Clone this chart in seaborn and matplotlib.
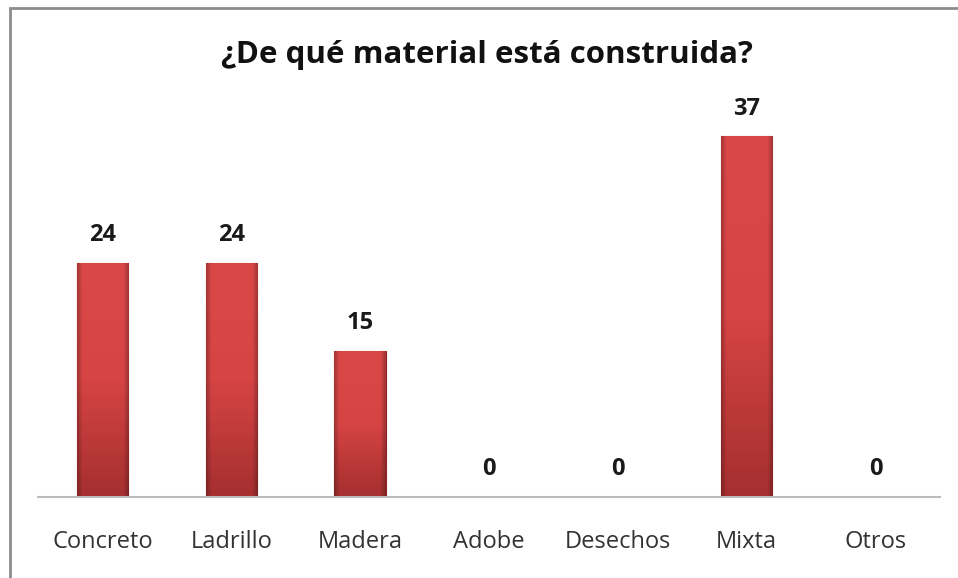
import numpy as np
import pandas as pd
import matplotlib
matplotlib.use("Agg")
import matplotlib.pyplot as plt
import seaborn as sns
from matplotlib.patches import Rectangle
from matplotlib.colors import LinearSegmentedColormap

categories = ["Concreto", "Ladrillo", "Madera", "Adobe", "Desechos", "Mixta", "Otros"]
values = [24, 24, 15, 0, 0, 37, 0]
title = "¿De qué material está construida?"

sns.set_theme(style="white")
plt.rcParams['font.family'] = ['Open Sans', 'DejaVu Sans']

W, H = 958, 578
fig = plt.figure(figsize=(W / 100, H / 100), dpi=100)
fig.patch.set_facecolor("white")
ax = fig.add_axes([38 / W, (H - 497) / H, (940 - 38) / W, (497 - 107) / H])

df = pd.DataFrame({"cat": categories, "val": values})
sns.barplot(data=df, x="cat", y="val", ax=ax, color="#C93B3B", width=0.4,
            edgecolor="#8E2222", linewidth=0.8, saturation=1)

# gradient overlay inside bars
grad = np.linspace(0, 1, 256).reshape(-1, 1)
cmap = LinearSegmentedColormap.from_list("g", ["#A52F2F", "#D64444", "#DB4848"])
for p in ax.patches:
    x0, y0 = p.get_x(), p.get_y()
    w, h = p.get_width(), p.get_height()
    if h <= 0:
        continue
    im = ax.imshow(grad, extent=[x0, x0 + w, y0, y0 + h], origin="lower",
                   cmap=cmap, aspect="auto", zorder=p.get_zorder() + 0.1)
    im.set_clip_path(p)
    sx = np.linspace(0, 1, 64).reshape(1, -1)
    alpha = np.clip(np.maximum(1 - sx / 0.1, (sx - 0.9) / 0.1), 0, 1) * 0.25
    rgba = np.zeros((1, 64, 4))
    rgba[..., 3] = alpha
    im2 = ax.imshow(rgba, extent=[x0, x0 + w, y0, y0 + h], aspect="auto",
                    zorder=p.get_zorder() + 0.2)
    im2.set_clip_path(p)
ax.set_xlim(-0.5, len(categories) - 0.5)
ax.set_ylim(0, 40)

for i, v in enumerate(values):
    ax.text(i, v + 1.6, str(v), ha="center", va="bottom", fontsize=17,
            fontweight="bold", color="#1a1a1a")

ax.set_xlabel("")
ax.set_ylabel("")
ax.set_yticks([])
ax.tick_params(axis="x", length=0, pad=24, labelsize=17, labelcolor="#333333")
for s in ["top", "right", "left"]:
    ax.spines[s].set_visible(False)
ax.spines["bottom"].set_color("#BBBBBB")
ax.spines["bottom"].set_linewidth(1.5)

fig.text(487 / W, (H - 63) / H, title, ha="center", va="baseline",
         fontsize=22.5, fontweight="bold", color="#111111")

fig.patches.append(Rectangle((9.5 / W, -0.1), 1.2, (H - 8.5) / H + 0.1,
                             transform=fig.transFigure, fill=False,
                             edgecolor="#8C8C8C", linewidth=2))

fig.savefig("out.png", dpi=100, facecolor="white")
